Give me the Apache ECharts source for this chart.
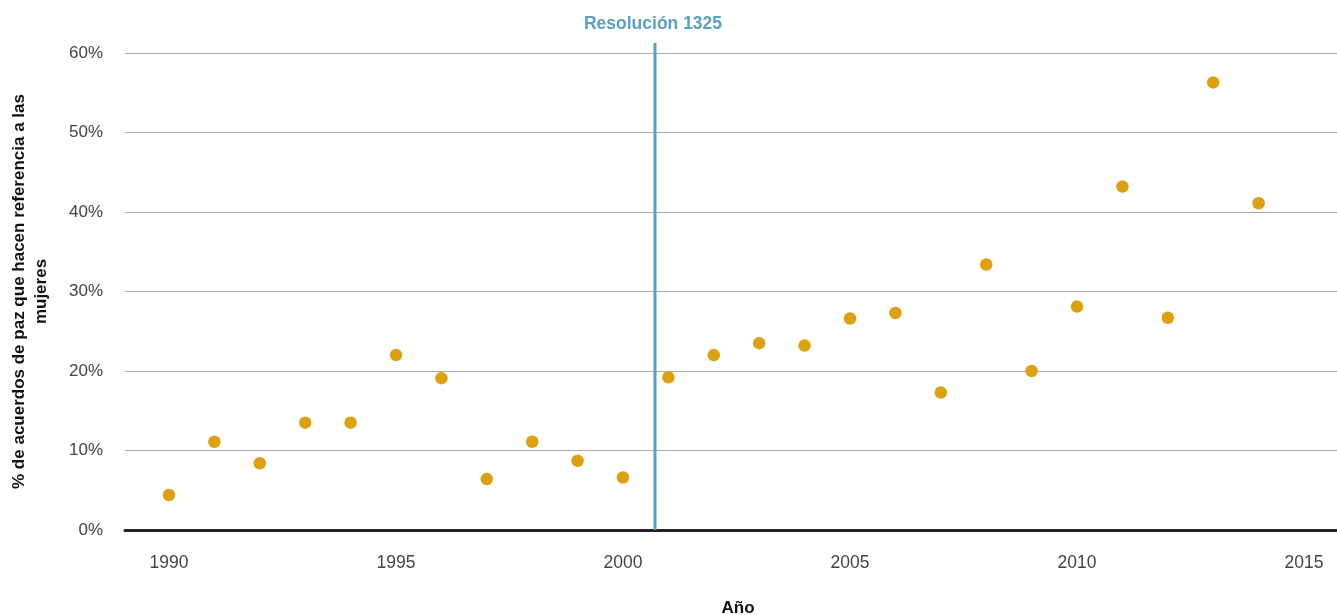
<!DOCTYPE html>
<html>
<head>
<meta charset="utf-8">
<script src="https://cdn.jsdelivr.net/npm/echarts@6/dist/echarts.min.js"></script>
<style>
html,body{margin:0;padding:0;background:#fff;}
#chart{width:1337px;height:615px;}
</style>
</head>
<body>
<div id="chart"></div>
<script>
// Data
var years = [1990,1991,1992,1993,1994,1995,1996,1997,1998,1999,2000,2001,2002,2003,2004,2005,2006,2007,2008,2009,2010,2011,2012,2013,2014];
var shares = [4.4,11.1,8.4,13.5,13.5,22.0,19.1,6.4,11.1,8.7,6.6,19.2,22.0,23.5,23.2,26.6,27.3,17.3,33.4,20.0,28.1,43.2,26.7,56.3,41.1];
var xTickLabels = [1990,1995,2000,2005,2010,2015];
var yTicks = [0,10,20,30,40,50,60];
var resolutionYear = [2000.705];
var resolutionLabel = ['Resolución 1325'];
var xName = 'Año';
var yName = '% de acuerdos de paz que hacen referencia a las\nmujeres';

var font = 'Liberation Sans, Arial, Helvetica, sans-serif';
var points = years.map(function(y,i){ return [y, shares[i]]; });

var chart = echarts.init(document.getElementById('chart'));
chart.setOption({
  animation:false,
  backgroundColor:'#fff',
  title:{
    text: resolutionLabel[0],
    left: 648, top: 10, textAlign:'center',
    textStyle:{color:'#5a9fc6', fontSize:17.5, fontWeight:'bold', fontFamily:font}
  },
  grid:{left:125, right:0, top:53, bottom:85, containLabel:false, outerBoundsMode:'none'},
  xAxis:{
    type:'value',
    min:1989.031, max:2015.727,
    name:xName, nameLocation:'middle', nameGap:70,
    nameTextStyle:{color:'#111', fontSize:17, fontWeight:'bold', fontFamily:font, padding:[0,0,0,14]},
    axisLine:{show:true, onZero:false, lineStyle:{color:'#222', width:3}},
    axisTick:{show:false},
    splitLine:{show:false},
    axisLabel:{customValues:xTickLabels, color:'#444', fontSize:17.5, fontFamily:font, margin:24,
      formatter:function(v){return String(Math.round(v));}}
  },
  yAxis:{
    type:'value', min:yTicks[0], max:yTicks[yTicks.length-1], interval:10,
    name:yName, nameLocation:'middle', nameGap:73, nameRotate:90,
    nameTextStyle:{color:'#111', fontSize:17, fontWeight:'bold', fontFamily:font, align:'center', lineHeight:22},
    axisLine:{show:false}, axisTick:{show:false},
    splitLine:{show:true, lineStyle:{color:'#aaa', width:1}},
    axisLabel:{color:'#444', fontSize:17, fontFamily:font, margin:22, formatter:'{value}%'}
  },
  series:[
    {
      type:'line',
      data:[[resolutionYear[0],0],[resolutionYear[0],61.26]],
      symbol:'none', clip:false, silent:true,
      lineStyle:{color:'#5a9fc6', width:3},
      z:3
    },
    {
      type:'scatter',
      data:points,
      symbol:'circle', symbolSize:12.5,
      itemStyle:{color:'#dda00f', opacity:1},
      z:4
    }
  ]
});
</script>
</body>
</html>
